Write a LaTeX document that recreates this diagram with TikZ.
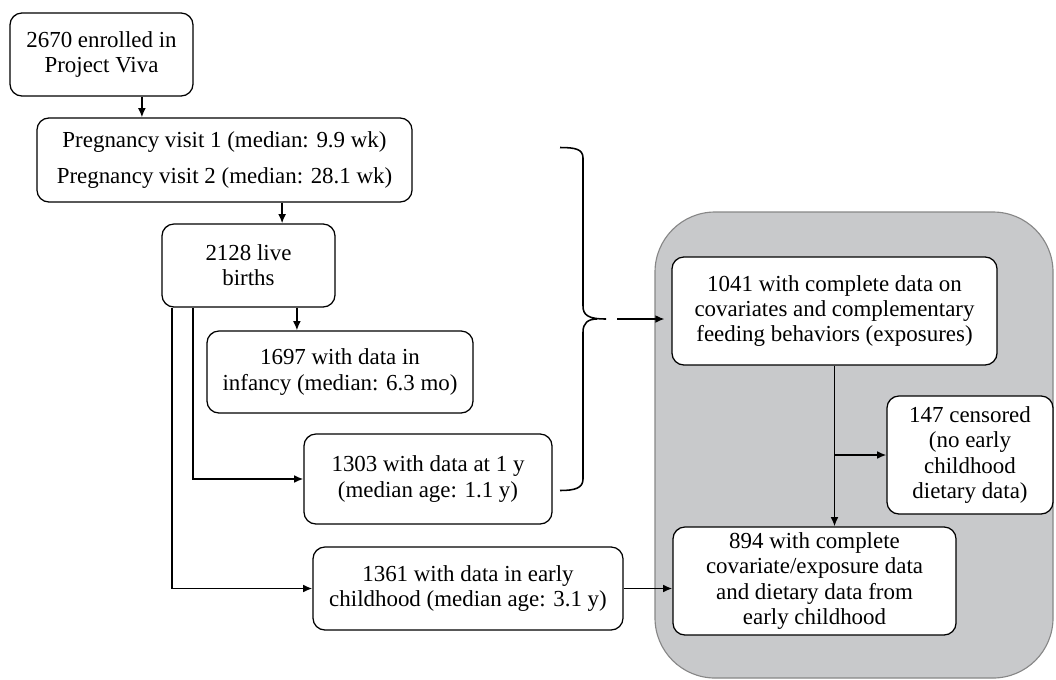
\documentclass[tikz,border=0pt]{standalone}
\usepackage{fontspec}
\setmainfont{Liberation Serif}
\usetikzlibrary{positioning, arrows.meta}
\definecolor{panelgray}{RGB}{200,201,203}
\definecolor{panelline}{RGB}{135,135,135}

\begin{document}
\begin{tikzpicture}[x=0.025cm, y=-0.025cm,
  box/.style={draw, rounded corners=0.3cm, fill=white, align=center, inner sep=0pt, line width=0.9pt, font=\fontsize{16.3}{17.8}\selectfont},
  arr/.style={-{Latex[length=6.5pt, width=5.5pt]}, line width=1.1pt}]
\useasboundingbox (0,0) rectangle (1056,679);
\draw[panelline, fill=panelgray, rounded corners=1.5cm, line width=0.8pt] (655,212) rectangle (1053,678);

\node[box, minimum width=4.575cm, minimum height=2.075cm] at (101.5,54.5) (enrol) {2670 enrolled in\\Project Viva};
\node[box, minimum width=9.375cm, minimum height=2.1cm] at (224.5,160) (preg) {Pregnancy visit 1 (median: 9.9 wk)\\[0.25cm]Pregnancy visit 2 (median: 28.1 wk)};
\node[box, minimum width=4.325cm, minimum height=2.075cm] at (248.5,265.5) (births) {2128 live\\births};
\node[box, minimum width=6.65cm, minimum height=2.05cm] at (340,372) (infancy) {1697 with data in\\infancy (median: 6.3 mo)};
\node[box, minimum width=6.2cm, minimum height=2.25cm] at (428,479) (oneyr) {1303 with data at 1 y\\(median age: 1.1 y)};
\node[box, minimum width=7.75cm, minimum height=2.075cm] at (468,588.5) (early) {1361 with data in early\\childhood (median age: 3.1 y)};
\node[box, minimum width=8.125cm, minimum height=2.7cm] at (834.5,311) (complete) {1041 with complete data on\\covariates and complementary\\feeding behaviors (exposures)};
\node[box, minimum width=4.15cm, minimum height=2.95cm] at (970,455) (censored) {147 censored\\(no early\\childhood\\dietary data)};
\node[box, minimum width=7.075cm, minimum height=2.7cm] at (814.5,581) (final) {894 with complete\\covariate/exposure data\\and dietary data from\\early childhood};

\draw[arr] ([xshift=1.01cm]enrol.south) -- ([xshift=1.01cm]enrol.south |- preg.north);
\draw[arr] ([xshift=0.84cm]births.north |- preg.south) -- ([xshift=0.84cm]births.north);
\draw[arr] ([xshift=1.21cm]births.south) -- ([xshift=1.21cm]births.south |- infancy.north);
\draw[arr] ([xshift=-1.39cm]births.south) |- (oneyr.west);
\draw[arr] ([xshift=-1.91cm]births.south) |- (early.west);
\draw[arr] (early.east) -- (early.east -| final.west);
\draw[arr] (complete.south) -- (complete.south |- final.north);
\coordinate (split) at (complete.south |- censored.west);
\draw[arr] (split) -- (censored.west);

\coordinate (bracetop) at (560,147.5);
\coordinate (bracebot) at (560,490.5);
\coordinate (bracetip) at (606,319);
\draw[line width=1.1pt] (bracetop) .. controls (575,147.5) and (583,149) .. (583,158) -- (583,306)
  .. controls (583,315) and (588,319) .. (bracetip)
  (bracetip) ++(-9,0) .. controls (588,319) and (583,323) .. (583,332) -- (583,479)
  .. controls (583,488) and (575,490.5) .. (bracebot);
\draw[arr, dash pattern=on 0pt off 0.275cm on 3cm, shorten >=0.17cm] (bracetip) -- (bracetip -| complete.west);
\end{tikzpicture}
\end{document}
